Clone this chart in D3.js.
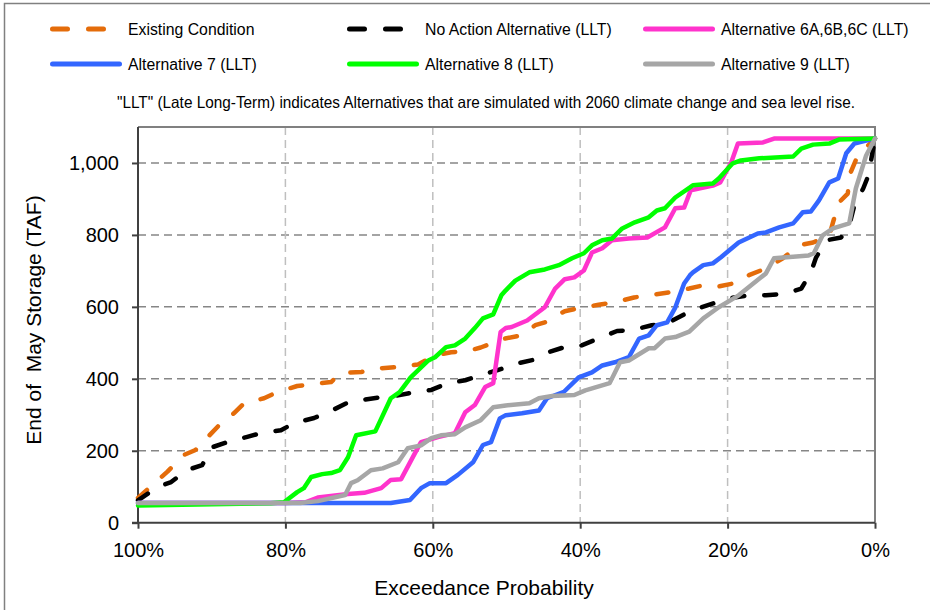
<!DOCTYPE html>
<html>
<head>
<meta charset="utf-8">
<script src="https://cdn.jsdelivr.net/npm/d3@7"></script>
<style>
  html, body { margin: 0; padding: 0; background: #fff; }
  svg { display: block; font-family: "Liberation Sans", Arial, sans-serif; }
</style>
</head>
<body>
<svg id="chart" width="930" height="610"></svg>
<script>
// End-of-May storage exceedance curves: [exceedance probability (%), storage (TAF)]
const existingCondition = [[100,69],[96.0,142],[93.8,188],[92.2,202],[89.0,271],[87.0,304],[85.6,332],[82.9,346],[81.1,363],[78.4,380],[76.4,385],[73.8,391],[72.5,416],[69.7,419],[67.2,429],[64.7,433],[62.0,440],[59.7,465],[57.5,474],[55.5,476],[53.5,487],[50.2,512],[47.9,521],[46.1,549],[44.8,557],[42.1,588],[40.2,596],[37.5,606],[35.3,613],[32.7,626],[30.7,632],[28.0,640],[25.2,651],[23.3,660],[21.2,657],[18.5,668],[17.1,688],[14.8,707],[12.5,735],[10.3,771],[8.4,779],[6.2,798],[5.7,835],[4.9,890],[3.7,915],[3.3,974],[2.4,1018],[0,1068]];
const noActionLLT = [[100,62],[97.4,99],[95.5,113],[93.4,146],[91.3,160],[89.9,210],[87.9,224],[85.3,238],[83.3,249],[80.6,257],[78.8,277],[76.1,291],[74.2,307],[71.7,332],[69.7,341],[67.0,349],[64.7,354],[62.4,363],[60.2,369],[57.9,388],[55.6,396],[53.5,410],[51.2,424],[48.3,444],[46.5,452],[44.3,474],[42.3,487],[39.8,493],[37.5,512],[35.0,533],[33.0,535],[30.3,549],[28.5,551],[25.9,579],[25.2,582],[24.0,596],[21.6,612],[19.8,624],[17.1,632],[14.8,632],[12.1,637],[10.0,651],[8.7,696],[8.0,737],[6.6,785],[4.6,793],[3.5,826],[2.8,882],[1.6,929],[0.9,965],[0,1068]];
const alt6LLT = [[100,55],[80,55],[77.2,57],[75.6,70],[71.5,80],[69.3,83],[67.0,96],[65.7,119],[64.3,121],[62.4,194],[61.6,224],[59.3,238],[57.0,249],[55.6,307],[54.3,327],[52.9,377],[51.8,388],[50.8,530],[50.1,541],[49.3,544],[47.2,562],[44.8,599],[43.4,651],[42.1,677],[40.8,682],[39.5,701],[38.4,751],[37.0,763],[35.7,785],[33.4,790],[30.9,793],[28.5,821],[27.1,874],[25.9,876],[25.0,924],[22.0,937],[21.0,946],[19.5,1002],[18.6,1054],[15.2,1057],[13.7,1068],[0,1068]];
const alt7LLT = [[100,55],[65.7,55],[63.1,63],[61.6,96],[60.4,110],[58.2,110],[56.6,133],[54.5,169],[53.2,216],[52.1,224],[50.9,290],[50.1,299],[47.9,304],[45.6,312],[44.5,346],[42.2,364],[40.2,404],[38.4,418],[37.0,437],[35.3,446],[33.4,460],[32.0,512],[30.7,521],[29.6,549],[28.2,557],[27.1,598],[25.9,665],[25.1,688],[24.7,696],[23.3,716],[22.0,721],[20.9,738],[18.5,779],[15.9,804],[14.8,807],[13.0,821],[11.1,832],[9.8,863],[8.7,865],[7.6,896],[6.2,946],[5.0,957],[3.9,1027],[2.8,1054],[1.6,1060],[0,1068]];
const alt8LLT = [[100,48],[90,51],[82,54],[80.2,57],[78.4,85],[77.5,96],[76.5,127],[75.0,135],[73.8,138],[72.6,146],[71.5,182],[70.4,243],[67.8,254],[65.7,346],[64.5,363],[63.0,404],[60.6,451],[59.7,460],[58.2,488],[57.0,493],[55.6,512],[54.3,541],[53.2,568],[51.8,579],[50.7,632],[50.1,646],[48.8,673],[46.9,696],[44.8,704],[42.9,716],[41.1,735],[39.5,749],[38.4,771],[37.0,785],[35.7,790],[34.3,818],[32.6,835],[30.7,849],[29.6,868],[28.5,874],[27.1,904],[25.1,932],[24.7,938],[22.0,943],[21.2,957],[19.3,999],[18.2,1007],[15.7,1013],[11.1,1018],[10.0,1040],[8.4,1051],[6.2,1054],[4.9,1065],[0,1068]];
const alt9LLT = [[100,55],[78,55],[75.6,60],[71.9,77],[71.1,110],[70.2,118],[68.4,146],[66.8,151],[64.7,168],[63.4,207],[61.6,215],[60.2,235],[58.9,243],[57.0,246],[55.6,265],[53.5,285],[51.8,321],[50.1,326],[46.9,332],[45.6,346],[43.8,352],[40.8,355],[39.3,368],[36.0,388],[34.6,446],[33.4,451],[30.7,485],[29.9,485],[28.5,512],[27.1,516],[25.2,531],[23.3,568],[21.2,599],[18.5,632],[14.8,693],[13.7,735],[9.0,743],[8.3,749],[7.1,799],[5.7,818],[3.5,832],[2.6,929],[1.2,1021],[0,1068]];

const seriesNames = ["Existing Condition", "No Action Alternative (LLT)", "Alternative 6A,6B,6C (LLT)",
                     "Alternative 7 (LLT)", "Alternative 8 (LLT)", "Alternative 9 (LLT)"];
const seriesData = [existingCondition, noActionLLT, alt6LLT, alt7LLT, alt8LLT, alt9LLT];
const seriesColors = ["#E46C0A", "#000000", "#FF33CC", "#3366FF", "#00FF00", "#A6A6A6"];
const seriesDashed = [true, true, false, false, false, false];

const yTicks = [0, 200, 400, 600, 800, 1000];
const xTicks = [100, 80, 60, 40, 20, 0];
const yTitle = "End of  May Storage (TAF)";
const xTitle = "Exceedance Probability";
const noteText = "\"LLT\" (Late Long-Term) indicates Alternatives that are simulated with 2060 climate change and sea level rise.";

const svg = d3.select("#chart");
const plot = { left: 138, right: 875, top: 127, bottom: 522.7 };

const x = d3.scaleLinear().domain([100, 0]).range([plot.left, plot.right]);
const y = d3.scaleLinear().domain([0, 1100]).range([plot.bottom, plot.top]);

// outer frame (runs past the right and bottom edges)
svg.append("rect")
  .attr("x", 4.5).attr("y", 3.5).attr("width", 1000).attr("height", 1000)
  .attr("fill", "none").attr("stroke", "#808080").attr("stroke-width", 1.5);

// gridlines
svg.append("g").selectAll("line").data(yTicks.filter(d => d > 0)).join("line")
  .attr("x1", plot.left).attr("x2", plot.right)
  .attr("y1", d => y(d)).attr("y2", d => y(d))
  .attr("stroke", "#868686").attr("stroke-width", 1.5).attr("stroke-dasharray", "8,5");
svg.append("g").selectAll("line").data(xTicks.filter(d => d > 0 && d < 100)).join("line")
  .attr("x1", d => x(d)).attr("x2", d => x(d))
  .attr("y1", plot.top).attr("y2", plot.bottom)
  .attr("stroke", "#BFBFBF").attr("stroke-width", 1.5).attr("stroke-dasharray", "8,5");

// plot-area border: top and right
svg.append("path")
  .attr("d", `M${plot.left},${plot.top}H${plot.right}V${plot.bottom}`)
  .attr("fill", "none").attr("stroke", "#808080").attr("stroke-width", 2);

// axes
const yAxis = d3.axisLeft(y).tickValues(yTicks).tickSize(6).tickPadding(13)
  .tickFormat(d3.format(","));
const xAxis = d3.axisBottom(x).tickValues(xTicks).tickSize(6).tickPadding(14)
  .tickFormat(d => d + "%");

const gy = svg.append("g").attr("transform", `translate(${plot.left},0)`).call(yAxis);
const gx = svg.append("g").attr("transform", `translate(0,${plot.bottom})`).call(xAxis);
[gy, gx].forEach(g => {
  g.select(".domain").attr("stroke", "#404040").attr("stroke-width", 2);
  g.selectAll(".tick line").attr("stroke", "#404040").attr("stroke-width", 2);
  g.selectAll(".tick text").attr("fill", "#000").style("font-size", "20px")
    .style("font-family", "'Liberation Sans', Arial, sans-serif");
});
gy.select(".domain").attr("d", `M-6,${plot.bottom}H0V${plot.top}`);
gx.select(".domain").attr("d", `M${plot.left},0H${plot.right}`);

// series lines
const line = d3.line().x(d => x(d[0])).y(d => y(d[1]));
seriesData.forEach((data, i) => {
  svg.append("path")
    .datum(data)
    .attr("d", line)
    .attr("fill", "none")
    .attr("stroke", seriesColors[i])
    .attr("stroke-width", 4.5)
    .attr("stroke-linejoin", "round")
    .attr("stroke-linecap", "round")
    .attr("stroke-dasharray", seriesDashed[i] ? "12,20" : null);
});

// axis titles
svg.append("text")
  .attr("transform", "translate(41,320) rotate(-90)")
  .attr("text-anchor", "middle")
  .style("font-size", "21px").style("white-space", "pre")
  .text(yTitle);
svg.append("text")
  .attr("x", 484).attr("y", 595)
  .attr("text-anchor", "middle")
  .style("font-size", "21px")
  .text(xTitle);

// legend
const legendCols = [50, 347, 643];
const legendRows = [29, 64];
seriesNames.forEach((name, i) => {
  const cx = legendCols[i % 3], cy = legendRows[Math.floor(i / 3)];
  svg.append("line")
    .attr("x1", cx + 2.5).attr("x2", seriesDashed[i] ? cx + 56 : cx + 69.5)
    .attr("y1", cy).attr("y2", cy)
    .attr("stroke", seriesColors[i]).attr("stroke-width", 5)
    .attr("stroke-linecap", "round")
    .attr("stroke-dasharray", seriesDashed[i] ? "15,21" : null);
  svg.append("text")
    .attr("x", cx + 78).attr("y", cy + 5.5)
    .style("font-size", "15.8px")
    .text(name);
});

svg.append("text")
  .attr("x", 117).attr("y", 108)
  .attr("textLength", 738).attr("lengthAdjust", "spacingAndGlyphs")
  .style("font-size", "16.5px")
  .text(noteText);
</script>
</body>
</html>
